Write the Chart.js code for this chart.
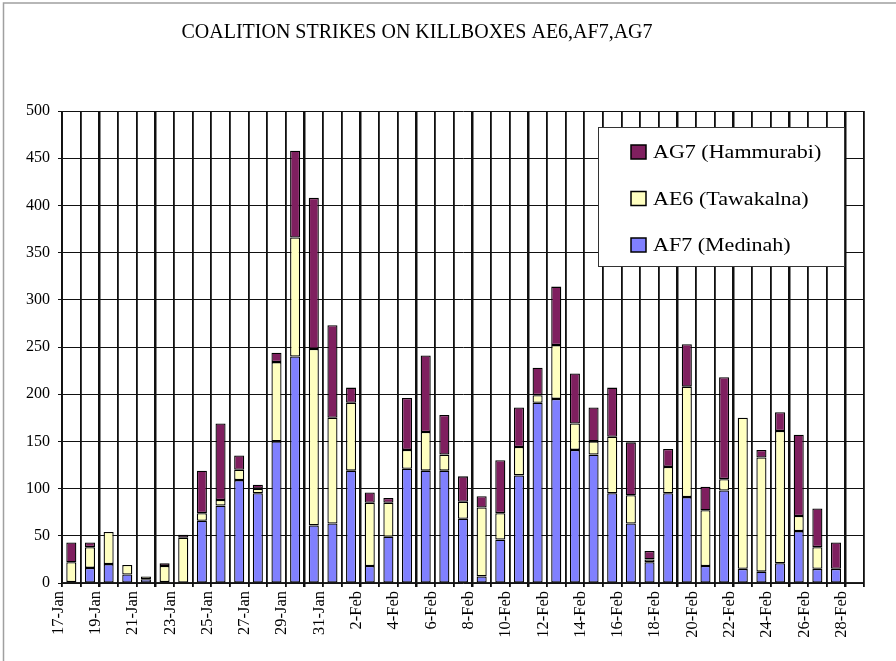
<!DOCTYPE html>
<html>
<head>
<meta charset="utf-8">
<script src="https://cdn.jsdelivr.net/npm/chart.js@4/dist/chart.umd.min.js"></script>
<style>
  html, body { margin: 0; padding: 0; background: #fff; }
  canvas { display: block; }
</style>
</head>
<body>
<canvas id="c" width="896" height="661"></canvas>
<script>
const chartTitle = 'COALITION STRIKES ON KILLBOXES AE6,AF7,AG7';

const categories = [
  '17-Jan','18-Jan','19-Jan','20-Jan','21-Jan','22-Jan','23-Jan','24-Jan','25-Jan','26-Jan',
  '27-Jan','28-Jan','29-Jan','30-Jan','31-Jan','1-Feb','2-Feb','3-Feb','4-Feb','5-Feb',
  '6-Feb','7-Feb','8-Feb','9-Feb','10-Feb','11-Feb','12-Feb','13-Feb','14-Feb','15-Feb',
  '16-Feb','17-Feb','18-Feb','19-Feb','20-Feb','21-Feb','22-Feb','23-Feb','24-Feb','25-Feb',
  '26-Feb','27-Feb','28-Feb'
];

const af7Medinah = [
  1, 16, 20, 9, 4, 1, 0, 66, 82, 109,
  95, 150, 240, 61, 63, 119, 18, 49, 121, 119,
  119, 68, 7, 46, 114, 191, 195, 141, 136, 95,
  63, 22, 95, 91, 18, 98, 15, 12, 21, 55,
  15, 15, null
];

const ae6Tawakalna = [
  21, 22, 34, 10, 3, 17, 48, 8, 6, 11,
  5, 84, 126, 187, 112, 72, 67, 36, 20, 41,
  17, 18, 73, 28, 30, 8, 57, 28, 14, 60,
  30, 3, 28, 117, 59, 12, 160, 121, 140, 16,
  23, 0, null
];

const ag7Hammurabi = [
  21, 5, 0, 0, 0, 3, 3, 45, 81, 15,
  4, 10, 92, 160, 98, 16, 11, 5, 55, 81,
  42, 27, 12, 56, 42, 29, 62, 53, 36, 52,
  56, 9, 19, 45, 25, 108, 0, 8, 20, 86,
  41, 28, null
];

const seriesNames = ['AF7 (Medinah)', 'AE6 (Tawakalna)', 'AG7 (Hammurabi)'];
const seriesColors = ['#8080ff', '#ffffc0', '#7f1f5f'];

const yMin = 0, yMax = 500, yStep = 50;

const SERIF = '"Liberation Serif", "Times New Roman", serif';

const framePlugin = {
  id: 'frame',
  beforeDraw(chart) {
    const ctx = chart.ctx;
    ctx.save();
    ctx.fillStyle = '#fff';
    ctx.fillRect(0, 0, chart.width, chart.height);
    ctx.strokeStyle = '#a0a0a0';
    ctx.lineWidth = 1.5;
    ctx.beginPath();
    ctx.moveTo(3.5, chart.height);
    ctx.lineTo(3.5, 3);
    ctx.lineTo(chart.width, 3);
    ctx.stroke();
    ctx.restore();
  },
  beforeDatasetsDraw(chart) {
    const xs = chart.scales.x;
    const area = chart.chartArea;
    const ctx = chart.ctx;
    const n = categories.length;
    const left = area.left, w = (area.right - area.left) / n;
    ctx.save();
    ctx.fillStyle = '#101010';
    for (let i = 0; i <= n; i++) {
      const x = Math.round(left + i * w);
      ctx.fillRect(x - 1, area.top, 1.6, area.bottom - area.top + 4);
    }
    ctx.restore();
  },
  afterDraw(chart) {
    const ctx = chart.ctx;
    ctx.save();
    ctx.fillStyle = '#000';
    ctx.font = '20px ' + SERIF;
    ctx.textAlign = 'center';
    ctx.textBaseline = 'middle';
    ctx.fillText(chartTitle, 417, 33);

    const bx = 598.5, by = 127.5, bw = 246, bh = 139;
    ctx.fillStyle = '#fff';
    ctx.fillRect(bx, by, bw, bh);
    ctx.strokeStyle = '#333';
    ctx.lineWidth = 1;
    ctx.strokeRect(bx, by, bw, bh);
    const ds = chart.data.datasets.slice().reverse();
    ctx.font = '19.5px ' + SERIF;
    ctx.textAlign = 'left';
    ctx.textBaseline = 'middle';
    ds.forEach((d, i) => {
      const cy = 152 + i * 46.5;
      ctx.fillStyle = d.backgroundColor;
      ctx.fillRect(631, cy - 7, 15, 14);
      ctx.strokeStyle = '#000';
      ctx.lineWidth = 1.5;
      ctx.strokeRect(631, cy - 7, 15, 14);
      ctx.fillStyle = '#000';
      ctx.save();
      ctx.translate(653, cy + 1);
      ctx.scale(1.13, 1);
      ctx.fillText(d.label, 0, 0);
      ctx.restore();
    });
    ctx.restore();
  }
};

const makeDs = (i, data) => ({
  label: seriesNames[i],
  data: data,
  backgroundColor: seriesColors[i],
  borderColor: '#000',
  borderWidth: 1.3,
  borderSkipped: false,
  barPercentage: 0.54,
  categoryPercentage: 1.0,
  stack: 's'
});

new Chart(document.getElementById('c'), {
  type: 'bar',
  data: {
    labels: categories,
    datasets: [
      makeDs(0, af7Medinah),
      makeDs(1, ae6Tawakalna),
      makeDs(2, ag7Hammurabi)
    ]
  },
  options: {
    responsive: false,
    animation: false,
    devicePixelRatio: 1,
    layout: { padding: { left: 0, right: 32, top: 111, bottom: 0 } },
    plugins: {
      legend: { display: false },
      title: { display: false },
      tooltip: { enabled: false }
    },
    scales: {
      x: {
        stacked: true,
        offset: true,
        grid: { display: true, offset: true, color: '#111', lineWidth: 1.5, tickLength: 4, drawTicks: true },
        border: { display: true, color: '#222', width: 1.2 },
        ticks: {
          autoSkip: false,
          maxRotation: 90,
          minRotation: 90,
          padding: 4,
          labelOffset: -13,
          color: '#000',
          font: { family: SERIF, size: 16.5 },
          callback: (v, i) => (i % 2 === 0 ? categories[i] : '')
        },
        afterFit: (s) => { s.height = 78; }
      },
      y: {
        stacked: true,
        min: yMin,
        max: yMax,
        grid: { color: '#111', lineWidth: 1, tickLength: 4 },
        border: { display: true, color: '#222', width: 1 },
        ticks: {
          stepSize: yStep,
          padding: 8,
          color: '#000',
          font: { family: SERIF, size: 16 }
        },
        afterFit: (s) => { s.width = 62; }
      }
    }
  },
  plugins: [framePlugin]
});
</script>
</body>
</html>
